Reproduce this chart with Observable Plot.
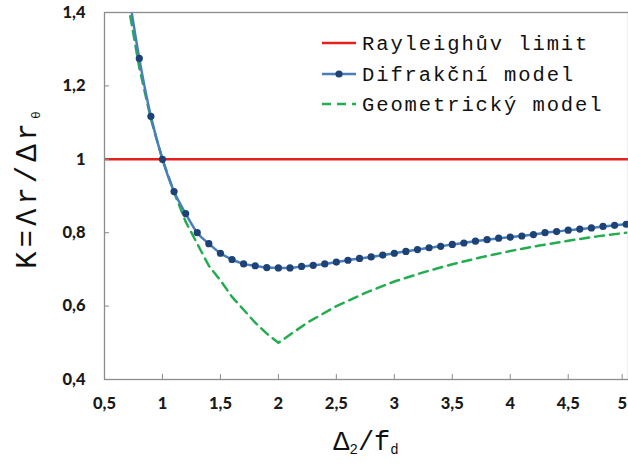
<!DOCTYPE html>
<html><head><meta charset="utf-8">
<script src="https://cdn.jsdelivr.net/npm/d3@7"></script>
<script src="https://cdn.jsdelivr.net/npm/@observablehq/plot@0.6"></script>
<style>body{margin:0;background:#fff}</style>
</head><body><div id="chart"></div>
<script>
const xTicks = [0.5, 1, 1.5, 2, 2.5, 3, 3.5, 4, 4.5];
const xLastTick = [5];
const yTicks = [0.4, 0.6, 0.8, 1, 1.2, 1.4];
const rayleighX = [0.5, 5.02];
const rayleighK = [1, 1];
const difX = [0.7,0.8,0.9,1.0,1.1,1.2,1.3,1.4,1.5,1.6,1.7,1.8,1.9,2.0,2.1,2.2,2.3,2.4,2.5,2.6,2.7,2.8,2.9,3.0,3.1,3.2,3.3,3.4,3.5,3.6,3.7,3.8,3.9,4.0,4.1,4.2,4.3,4.4,4.5,4.6,4.7,4.8,4.9,5.0];
const difK = [1.47,1.275,1.117,1.0,0.912,0.852,0.80,0.770,0.744,0.727,0.715,0.710,0.705,0.704,0.704,0.708,0.711,0.715,0.720,0.725,0.730,0.734,0.739,0.744,0.749,0.754,0.759,0.763,0.768,0.772,0.777,0.781,0.785,0.788,0.791,0.795,0.800,0.803,0.807,0.810,0.813,0.817,0.820,0.823];
const geoX = [0.7,0.8,0.9,1.0,1.1,1.2,1.3,1.4,1.5,1.6,1.7,1.8,1.9,2.0,2.25,2.5,2.75,3.0,3.25,3.5,3.75,4.0,4.25,4.5,4.75,5.0];
const geoK = [1.43,1.25,1.11,1.0,0.91,0.83,0.77,0.71,0.67,0.625,0.59,0.555,0.525,0.5,0.555,0.60,0.636,0.667,0.692,0.714,0.733,0.75,0.765,0.778,0.79,0.80];
const legendLabels = ["Rayleighův limit", "Difrakční model", "Geometrický model"];

const red = "#e5211e", blueLine = "#4a7ebb", blueDot = "#1d4275", green = "#22ad50";
const rayleigh = rayleighX.map((x, i) => ({x, k: rayleighK[i]}));
const dif = difX.map((x, i) => ({x, k: difK[i]}));
const geo = geoX.map((x, i) => ({x, k: geoK[i]}));
const fmt = d => String(d).replace(".", ",");

const svg = Plot.plot({
  width: 628, height: 466,
  marginLeft: 104, marginRight: 0, marginTop: 12, marginBottom: 87,
  style: {fontFamily: "Lato", fontSize: "16.5px", fontWeight: "900", color: "#1a1a1a", background: "#fff"},
  x: {domain: [0.5, 5.02]},
  y: {domain: [0.4, 1.4]},
  marks: [
    Plot.line(rayleigh, {x: "x", y: "k", stroke: red, strokeWidth: 2.5, clip: true}),
    Plot.line(geo, {x: "x", y: "k", stroke: green, strokeWidth: 2.5, strokeDasharray: "9,6", clip: true}),
    Plot.line(dif, {x: "x", y: "k", stroke: blueLine, strokeWidth: 2.5, curve: "monotone-x", clip: true}),
    Plot.dot(dif, {x: "x", y: "k", r: 3.6, fill: blueDot, clip: true}),
    Plot.frame({stroke: "#8c8c8c", strokeWidth: 1.3}),
    Plot.axisX({ticks: xTicks, tickFormat: fmt, tickSize: -5, tickPadding: 23, stroke: "#8c8c8c", label: null}),
    Plot.axisX({ticks: xLastTick, tickFormat: fmt, tickSize: -5, tickPadding: 23, dx: -4, stroke: "#8c8c8c", label: null}),
    Plot.axisY({ticks: yTicks, tickFormat: fmt, tickSize: -5, tickPadding: 24, stroke: "#8c8c8c", label: null})
  ]
});
document.getElementById("chart").appendChild(svg);

const s = d3.select(svg);
const mono = "'Liberation Mono', 'DejaVu Sans Mono', monospace";
// y-axis title
const yt = s.append("text")
  .attr("transform", "translate(36,188) rotate(-90)")
  .attr("text-anchor", "middle")
  .attr("font-family", mono).attr("font-size", 29).attr("font-weight", "normal")
  .attr("letter-spacing", 4).attr("fill", "#111");
yt.append("tspan").text("K=Λr/Δr");
yt.append("tspan").attr("font-size", 13).attr("dy", 4).text("θ");
// x-axis title
const xt = s.append("text")
  .attr("x", 366).attr("y", 450)
  .attr("text-anchor", "middle")
  .attr("font-family", mono).attr("font-size", 27).attr("font-weight", "normal")
  .attr("fill", "#111");
xt.append("tspan").text("Δ");
xt.append("tspan").attr("font-size", 14).attr("dy", 4).text("2");
xt.append("tspan").attr("dy", -4).text("/f");
xt.append("tspan").attr("font-size", 14).attr("dy", 4).text("d");

// legend
const rows = [43, 74, 104];
const lg = s.append("g");
rows.forEach((y, i) => {
  const g = lg.append("g");
  if (i === 0) g.append("line").attr("x1", 322).attr("x2", 356).attr("y1", y).attr("y2", y).attr("stroke", red).attr("stroke-width", 2.5);
  if (i === 1) {
    g.append("line").attr("x1", 322).attr("x2", 356).attr("y1", y).attr("y2", y).attr("stroke", blueLine).attr("stroke-width", 2.5);
    g.append("circle").attr("cx", 339).attr("cy", y).attr("r", 3.6).attr("fill", blueDot);
  }
  if (i === 2) g.append("line").attr("x1", 322).attr("x2", 356).attr("y1", y).attr("y2", y).attr("stroke", green).attr("stroke-width", 2.5).attr("stroke-dasharray", "9,6");
  g.append("text").attr("x", 362).attr("y", y).attr("dy", "0.35em")
    .attr("text-anchor", "start")
    .attr("font-family", mono).attr("font-size", 20.5).attr("font-weight", "normal")
    .attr("letter-spacing", 1.9).attr("fill", "#111").text(legendLabels[i]);
});
</script>
</body></html>
